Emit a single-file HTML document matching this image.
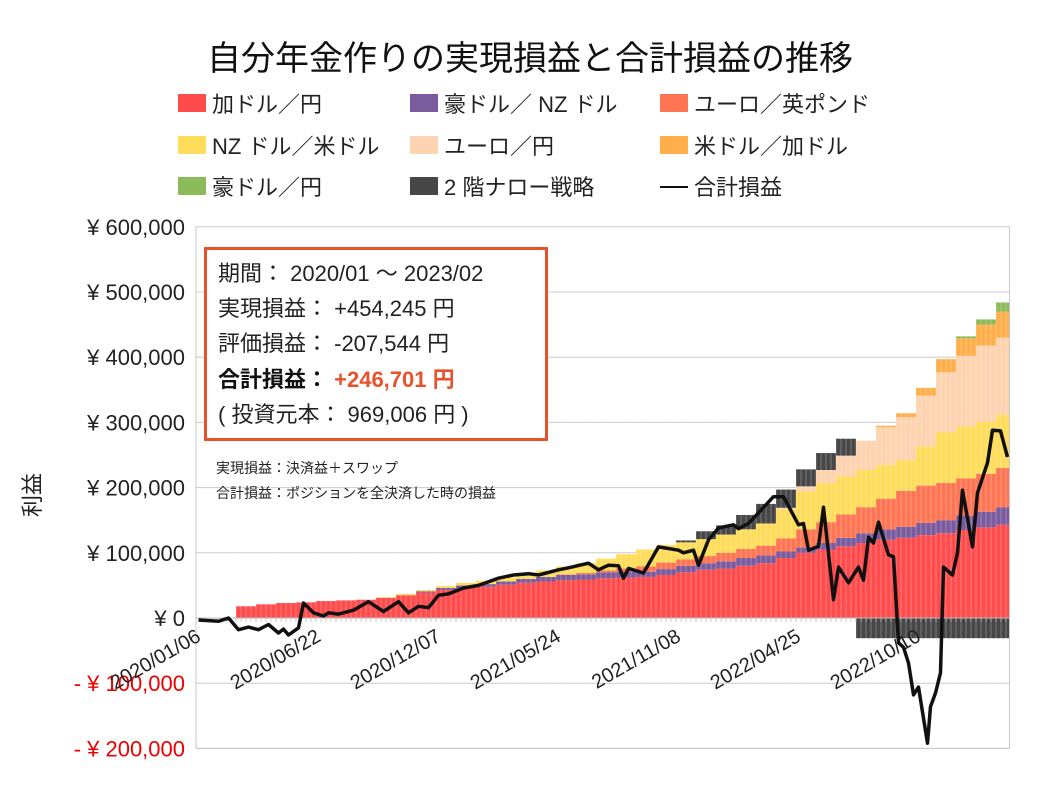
<!DOCTYPE html>
<html><head><meta charset="utf-8">
<style>
html,body{margin:0;padding:0;background:#fff;}
svg{display:block;font-family:"Liberation Sans","Noto Sans CJK JP",sans-serif;}
</style></head>
<body>
<svg id="chart" width="1058" height="794" viewBox="0 0 1058 794">
<text x="530" y="70" font-size="34" text-anchor="middle" fill="#111">自分年金作りの実現損益と合計損益の推移</text>
<g id="legend"></g>
<g id="grid"></g>
<g id="bars"></g>
<g id="axes"></g>
<g id="line"></g>
<text transform="translate(40,495) rotate(-90)" font-size="22" text-anchor="middle" fill="#222">利益</text>
<g>
<rect x="205.5" y="248.5" width="341" height="191" fill="#fff" stroke="#e8522a" stroke-width="3"/>
<text x="218" y="281" font-size="22" fill="#222">期間： 2020/01 ～ 2023/02</text>
<text x="218" y="316" font-size="22" fill="#222">実現損益： +454,245 円</text>
<text x="218" y="351" font-size="22" fill="#222">評価損益： -207,544 円</text>
<text x="218" y="387" font-size="22" font-weight="bold" fill="#111">合計損益： <tspan fill="#e8522a">+246,701 円</tspan></text>
<text x="218" y="422" font-size="22" fill="#222">( 投資元本： 969,006 円 )</text>
</g>
<text x="216" y="473" font-size="14" fill="#222">実現損益：決済益＋スワップ</text>
<text x="216" y="498" font-size="14" fill="#222">合計損益：ポジションを全決済した時の損益</text>
</svg>
<script>
// y axis ticks
const yTicks = [600000,500000,400000,300000,200000,100000,0,-100000,-200000];
const xLabelWeeks = [0,24,48,72,96,120,144];
const xLabels = ["2020/01/06","2020/06/22","2020/12/07","2021/05/24","2021/11/08","2022/04/25","2022/10/10"];
// stacked series, values per 4-week period (yen, thousands)
const seriesNames = ["加ドル／円","豪ドル／ NZ ドル","ユーロ／英ポンド","NZ ドル／米ドル","ユーロ／円","米ドル／加ドル","豪ドル／円","2 階ナロー戦略"];
const sCADJPY = [0,0,18,21,23,24,26,27,28,31,35,39,43,46,48,51,54,56,58,59,61,62,63,66,70,74,76,80,84,92,100,105,110,115,120,123,127,130,135,139,143];
const sAUDNZD = [0,0,0,0,0,0,0,0,0,0,0,2,3,4,4,5,6,7,8,8,9,9,8,9,10,10,11,12,12,10,8,10,13,15,16,17,19,20,22,24,27];
const sEURGBP = [0,0,0,0,0,0,0,0,0,0,0,0,0,0,0,0,0,0,1,2,3,5,8,10,10,11,13,14,15,20,28,32,36,40,47,55,57,57,57,58,60];
const sNZDUSD = [0,0,0,0,0,0,0,0,0,1,2,2,3,4,5,6,8,10,12,15,18,22,26,27,26,26,28,30,34,45,58,60,58,57,52,47,60,78,80,80,82];
const sEURJPY = [0,0,0,0,0,0,0,0,0,0,0,0,0,0,0,0,0,0,0,0,0,0,0,0,0,0,0,0,0,2,8,20,32,45,58,66,78,92,108,117,118];
const sUSDCAD = [0,0,0,0,0,0,0,0,0,0,0,0,0,0,0,0,0,0,0,0,0,0,0,0,0,0,0,0,0,0,0,0,0,0,2,6,12,20,27,32,40];
const sAUDJPY = [0,0,0,0,0,0,0,0,0,0,0,0,0,0,0,0,0,0,0,0,0,0,0,0,0,0,0,0,0,0,0,0,0,0,0,0,0,0,3,8,14];
const sNarrow = [0,0,0,0,0,0,0,0,0,0,0,0,0,0,0,0,0,0,0,0,0,0,0,0,3,12,14,22,30,28,26,26,26,-31,-31,-31,-31,-31,-31,-31,-31];
const seriesColors = ["#ff4b4b","#7a5c9e","#ff7453","#ffdc5a","#fdd3b0","#ffae4a","#8bbb5b","#474747"];
// total P/L line (thousand yen) at week positions
const lineWeeks = [0,4,6,8,10,12,14,16,17,18,20,21,23,25,26,28,31,34,37,40,42,44,46,48,50,53,56,60,63,66,68,72,74,78,80,82,84,85,86,89,92,96,97,99,100,102,104,107,108,110,115,117,120,121,122,124,125,127,128,130,132,133,134,135,136,138,139,140,141,142,143,144,145.8,146.4,147.4,148.4,149,150.8,151.8,152.8,154.8,155.8,157.8,158.8,160.4,161.8];
const lineValues = [-3,-5,0,-18,-14,-18,-10,-23,-17,-26,-15,23,8,3,8,6,12,25,10,25,8,18,16,35,37,46,50,61,66,68,66,74,77,84,74,81,80,61,76,69,109,104,100,104,81,120,138,143,137,145,186,186,143,145,104,110,170,28,78,54,78,58,124,115,147,97,94,-38,-45,-69,-118,-106,-192,-136,-115,-84,78,66,100,196,109,192,238,288,287,247];

const NS="http://www.w3.org/2000/svg";
const X0=196, X1=1010, WEEK=5, Y0=618, PXK=0.652; // px per thousand
function xW(w){return X0+w*WEEK+2.5;}
function yV(k){return Y0-k*PXK;}
function mk(tag,attrs,parent){const e=document.createElementNS(NS,tag);for(const a in attrs)e.setAttribute(a,attrs[a]);parent.appendChild(e);return e;}

const grid=document.getElementById('grid'), axes=document.getElementById('axes'), bars=document.getElementById('bars'), line=document.getElementById('line'), legend=document.getElementById('legend');
yTicks.forEach(v=>{
  const y=yV(v/1000);
  if(v!==0){const g=mk('line',{x1:X0,x2:X1,y1:y,y2:y,stroke:'#c8c8c8','stroke-width':1},grid);
  
  }
  const neg=v<0;
  const s=Math.abs(v).toLocaleString('en-US');
  const t=mk('text',{x:185,y:y+8,'font-size':22,'text-anchor':'end',fill:neg?'#e00':'#222'},axes);
  t.textContent=(neg?'- ':'')+'¥ '+s;
  
  
});
const fr=mk('line',{x1:X1-0.5,x2:X1-0.5,y1:yV(600),y2:yV(-200),stroke:'#c8c8c8'},grid);


const fb=mk('line',{x1:X0,x2:X1,y1:yV(-200),y2:yV(-200),stroke:'#c8c8c8'},grid);


const fl=mk('line',{x1:X0,x2:X0,y1:yV(600),y2:yV(-200),stroke:'#c8c8c8'},grid);



// bars
const allSeries=[sCADJPY,sAUDNZD,sEURGBP,sNZDUSD,sEURJPY,sUSDCAD,sAUDJPY,sNarrow];
for(let k=0;k<sCADJPY.length;k++){
  let pos=0,neg=0;
  const x=X0+k*4*WEEK, w=Math.min(4*WEEK, X1-1-x);
  allSeries.forEach((s,i)=>{
    const v=s[k]; if(!v) return;
    let y1,y2;
    if(v>0){y1=yV(pos+v);y2=yV(pos);pos+=v;} else {y1=yV(neg);y2=yV(neg+v);neg+=v;}
    const r=mk('rect',{x:x,y:y1,width:w,height:y2-y1,fill:seriesColors[i]},bars);
    
    
  });
}
// weekly texture lines
for(let wk=1;wk<163;wk++){
  const x=X0+wk*WEEK;
  const l=mk('line',{x1:x,x2:x,y1:yV(600),y2:yV(-200),stroke:'rgba(255,255,255,0.35)','stroke-width':0.8},bars);
  
  
  const tk=mk('line',{x1:x,x2:x,y1:Y0,y2:Y0+4,stroke:'#bbb','stroke-width':0.8},axes);
  
  
}
const za=mk('line',{x1:X0,x2:X1,y1:Y0,y2:Y0,stroke:'#bbb'},axes);


xLabelWeeks.forEach((w,i)=>{
  const x=X0+w*WEEK+6, y=640;
  const t=mk('text',{x:x,y:y,'font-size':20,'text-anchor':'end',fill:'#222',transform:`rotate(-30 ${x} ${y})`},axes);
  t.textContent=xLabels[i];
  
  
});
// line
const pts=lineWeeks.map((w,i)=>xW(w).toFixed(1)+','+yV(lineValues[i]).toFixed(1)).join(' ');
const pl=mk('polyline',{points:pts,fill:'none',stroke:'#111','stroke-width':3.5,'stroke-linejoin':'round'},line);



// legend
const legItems=[["加ドル／円",0,178,104],["豪ドル／ NZ ドル",1,410,104],["ユーロ／英ポンド",2,660,104],["NZ ドル／米ドル",3,178,146],["ユーロ／円",4,410,146],["米ドル／加ドル",5,660,146],["豪ドル／円",6,178,187],["2 階ナロー戦略",7,410,187]];
legItems.forEach(it=>{
  const r=mk('rect',{x:it[2],y:it[3]-10,width:28,height:18,fill:seriesColors[it[1]]},legend);
  
  
  const t=mk('text',{x:it[2]+34,y:it[3]+8,'font-size':22,fill:'#222'},legend);
  t.textContent=it[0];
  
  
});
const ll=mk('line',{x1:660,x2:688,y1:187,y2:187,stroke:'#111','stroke-width':2},legend);


const lt=mk('text',{x:694,y:195,'font-size':22,fill:'#222'},legend);
lt.textContent="合計損益";


</script>
</body></html>
